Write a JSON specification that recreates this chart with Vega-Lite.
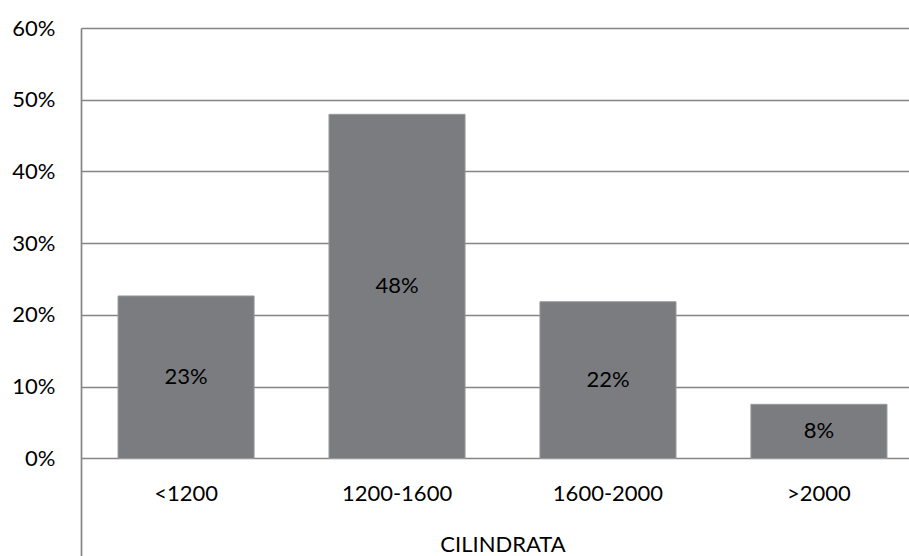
{
  "$schema": "https://vega.github.io/schema/vega-lite/v6.json",
  "autosize": {"type": "none"},
  "padding": {"left": 81, "top": 28, "right": 0, "bottom": 0},
  "width": 828,
  "height": 528,
  "background": "white",
  "config": {"view": {"stroke": null}, "font": "Lato"},
  "data": {
    "values": [
      {"cilindrata": "<1200", "share": 0.2265},
      {"cilindrata": "1200-1600", "share": 0.4797},
      {"cilindrata": "1600-2000", "share": 0.2185},
      {"cilindrata": ">2000", "share": 0.0755}
    ]
  },
  "encoding": {
    "x": {
      "field": "cilindrata",
      "type": "nominal",
      "sort": null,
      "scale": {"range": [0, 843], "paddingInner": 0.355, "paddingOuter": 0.1755},
      "axis": {
        "orient": "bottom",
        "offset": -97.5,
        "domain": false,
        "ticks": false,
        "grid": false,
        "labelAngle": 0,
        "labelFontSize": 22,
        "labelColor": "#000000",
        "labelFont": "Lato",
        "labelPadding": 25,
        "title": "CILINDRATA",
        "titleFont": "Lato",
        "titleFontSize": 22,
        "titleFontWeight": "normal",
        "titleColor": "#000000",
        "titlePadding": 30
      }
    }
  },
  "layer": [
    {
      "mark": {"type": "bar", "color": "#7b7c80", "stroke": "#9a9a9c", "strokeWidth": 1},
      "encoding": {
        "y": {
          "field": "share",
          "type": "quantitative",
          "scale": {"domain": [-0.1359, 0.6], "nice": false, "zero": false},
          "axis": {
            "values": [0, 0.1, 0.2, 0.3, 0.4, 0.5, 0.6],
            "format": ".0%",
            "title": null,
            "ticks": false,
            "domain": true,
            "domainColor": "#858585",
            "domainWidth": 1.7,
            "grid": true,
            "gridColor": "#858585",
            "gridWidth": 1.7,
            "labelFontSize": 22,
            "labelFont": "Lato",
            "labelColor": "#000000",
            "labelPadding": 26
          }
        },
        "y2": {"datum": 0}
      }
    },
    {
      "transform": [{"calculate": "datum.share / 2", "as": "mid"}],
      "mark": {"type": "text", "fontSize": 22, "font": "Lato", "color": "#000000"},
      "encoding": {
        "y": {"field": "mid", "type": "quantitative"},
        "text": {"field": "share", "type": "quantitative", "format": ".0%"}
      }
    }
  ]
}
